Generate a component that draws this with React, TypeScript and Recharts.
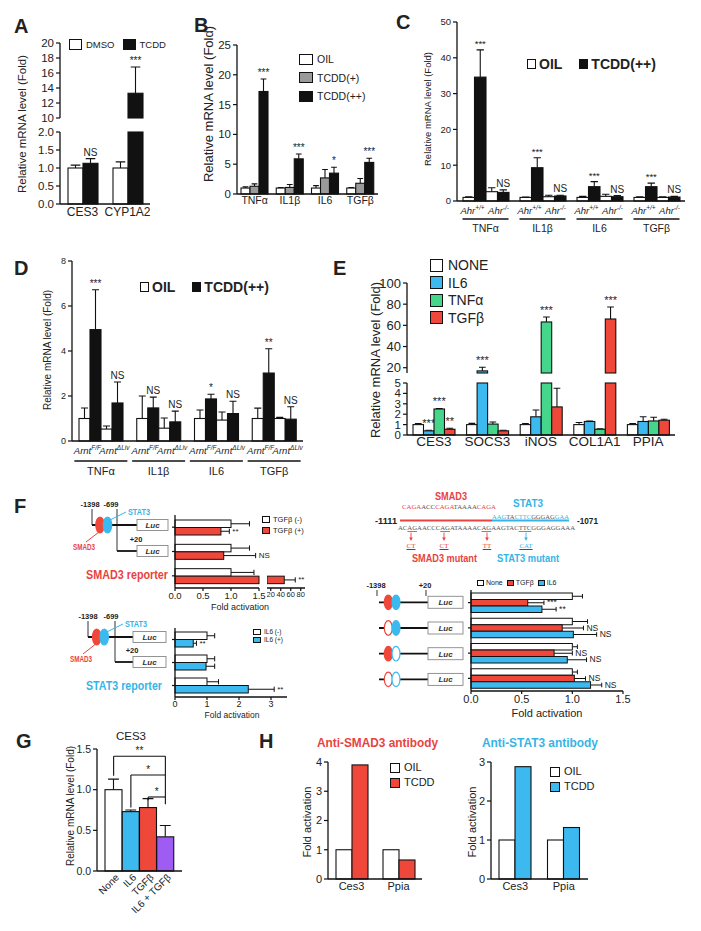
import React from "react";
import { BarChart, Bar, XAxis, YAxis, Legend, Cell, ReferenceLine } from "recharts";

const FONT = '"Liberation Sans", Arial, Helvetica, sans-serif';
const INK = "#111";
const TXT = "#222";
const RED = "#F0473B";
const BLUE = "#3CB9EE";
const GREEN = "#46D68B";
const PURPLE = "#9F5CF2";
const GREYBAR = "#9a9a9a";
const RED_T = "#E8433F";
const BLUE_T = "#36B4E6";

// ---- A: CES3 / CYP1A2 ----
const aGenes = ["CES3", "CYP1A2"];
const aDmso = [1.0, 1.0];
const aDmsoErr = [0.08, 0.17];
const aTcdd = [1.13, 13.3];
const aTcddErr = [0.13, 3.5];
const aSig = ["NS", "***"];

// ---- B ----
const bGenes = ["TNFα", "IL1β", "IL6", "TGFβ"];
const bOil = [1.0, 1.0, 1.0, 1.0];
const bOilErr = [0.2, 0.1, 0.4, 0.1];
const bTcdd1 = [1.3, 1.1, 2.7, 1.8];
const bTcdd1Err = [0.4, 0.5, 1.4, 0.8];
const bTcdd2 = [17.2, 5.9, 3.5, 5.3];
const bTcdd2Err = [2.1, 0.8, 1.0, 0.7];
const bSig = ["***", "***", "*", "***"];

// ---- C (Ahr +/+ vs -/-) ----
const cWtOil = [1.0, 1.0, 1.0, 1.0];
const cWtOilErr = [0.2, 0.1, 0.3, 0.2];
const cWtTcdd = [34.6, 9.3, 4.0, 4.0];
const cWtTcddErr = [7.6, 2.8, 1.4, 1.0];
const cKoOil = [2.6, 1.2, 1.3, 1.0];
const cKoOilErr = [1.1, 0.4, 0.6, 0.2];
const cKoTcdd = [2.4, 1.4, 1.2, 1.1];
const cKoTcddErr = [0.7, 0.2, 0.3, 0.2];
const cWtSig = ["***", "***", "***", "***"];
const cKoSig = ["NS", "NS", "NS", "NS"];

// ---- D (Arnt F/F vs ΔLiv) ----
const dWtOil = [1.0, 1.0, 1.0, 1.0];
const dWtOilErr = [0.47, 1.0, 0.38, 0.46];
const dWtTcdd = [4.95, 1.47, 1.87, 3.02];
const dWtTcddErr = [1.77, 0.48, 0.21, 1.08];
const dKoOil = [0.53, 0.57, 0.93, 1.0];
const dKoOilErr = [0.14, 0.45, 0.36, 0.05];
const dKoTcdd = [1.69, 0.85, 1.22, 0.97];
const dKoTcddErr = [0.93, 0.48, 0.55, 0.55];
const dWtSig = ["***", "NS", "*", "**"];
const dKoSig = ["NS", "NS", "NS", "NS"];

// ---- E ----
const eGenes = ["CES3", "SOCS3", "iNOS", "COL1A1", "PPIA"];
const eNone = [1.0, 1.0, 1.0, 1.0, 1.0];
const eNoneErr = [0.1, 0.12, 0.1, 0.2, 0.1];
const eIl6 = [0.4, 17, 1.75, 1.3, 1.3];
const eIl6Err = [0.05, 3.5, 0.65, 0.05, 0.45];
const eTnf = [2.5, 1.05, 63.2, 0.55, 1.35];
const eTnfErr = [0.05, 0.2, 4.7, 0.05, 0.35];
const eTgf = [0.55, 0.4, 2.7, 66, 1.42];
const eTgfErr = [0.1, 0.05, 1.8, 11.3, 0.1];
const eIl6Sig = ["***", "***", null, null, null];
const eTnfSig = ["***", null, "***", null, null];
const eTgfSig = ["**", null, null, "***", null];

// ---- F: SMAD3 reporter ----
const fRows3 = ["full", "short", "reporter"];
const fTgfNeg = [1.0, 1.0, 1.0];
const fTgfNegErr = [0.33, 0.33, 0.41];
const fTgfPos = [0.82, 0.87, 47];
const fTgfPosErr = [0.15, 0.57, 22];
const fTgfSig = ["**", "NS", "**"];
// ---- F: STAT3 reporter ----
const fIl6Neg = [1.0, 1.0, 1.0];
const fIl6NegErr = [0.24, 0.24, 0.36];
const fIl6Pos = [0.57, 0.97, 2.29];
const fIl6PosErr = [0.1, 0.27, 0.81];
const fIl6Sig = ["**", null, "**"];
// ---- F: mutant promoters ----
const fMutRows = ["wt", "smadMut", "statMut", "double"];
const fNone = [1.0, 1.0, 1.0, 1.0];
const fNoneErr = [0.1, 0.15, 0.05, 0.05];
const fTgf = [0.56, 0.9, 0.82, 1.02];
const fTgfErr = [0.16, 0.21, 0.18, 0.11];
const fTgfMutSig = ["***", "NS", "NS", "NS"];
const fIl6 = [0.7, 1.01, 0.95, 1.18];
const fIl6Err = [0.14, 0.23, 0.19, 0.11];
const fIl6MutSig = ["**", "NS", "NS", "NS"];
const fSites = [[true, true], [false, true], [true, false], [false, false]];

// ---- G ----
const gTreat = ["None", "IL6", "TGFβ", "IL6 + TGFβ"];
const gVals = [1.0, 0.73, 0.78, 0.42];
const gErr = [0.13, 0.02, 0.11, 0.14];
const gColors = ["#fff", BLUE, RED, PURPLE];

// ---- H ----
const hGenes = ["Ces3", "Ppia"];
const hSmadOil = [1.0, 1.0];
const hSmadTcdd = [3.9, 0.65];
const hStatOil = [1.0, 1.0];
const hStatTcdd = [2.88, 1.32];

type S = { key: string; v: number[]; e?: number[]; s?: (string | null)[] };

function rows(cats: string[], series: S[], lo = -Infinity, hi = Infinity) {
  return cats.map((name, i) => {
    const r: Record<string, any> = { name };
    for (const s of series) {
      const v = s.v[i];
      if (v <= lo) {
        r[s.key] = null;
        continue;
      }
      const clipped = v > hi;
      r[s.key] = clipped ? hi : v;
      r[s.key + "E"] = clipped || !s.e ? null : s.e[i];
      r[s.key + "S"] = clipped || !s.s ? null : s.s[i];
    }
    return r;
  });
}

function frame(px: number, py: number, pw: number, ph: number, yw: number, xh: number, mt = 12, mr = 12, mb = 0) {
  return {
    pos: { position: "absolute" as const, left: px - yw, top: py - mt },
    w: yw + pw + mr,
    h: mt + ph + xh + mb,
    m: { top: mt, right: mr, bottom: mb, left: 0 },
    ox: px - yw,
    oy: py - mt,
  };
}

const axLine = { stroke: INK, strokeWidth: 1.3 };
const tkLine = { stroke: INK, strokeWidth: 1.2 };

function yAx(fs: number) {
  return { axisLine: axLine, tickLine: tkLine, tickSize: 4, tickMargin: 2, tick: { fontSize: fs, fill: TXT }, interval: 0 as const };
}
function xCat(fs: number) {
  return { axisLine: axLine, tickLine: false, tickSize: 0, tickMargin: 3, tick: { fontSize: fs, fill: TXT }, interval: 0 as const };
}
const f1 = (v: number) => v.toFixed(1);
const none = () => <g />;

function legendAt(f: any, x: number, y: number) {
  return {
    layout: "vertical" as const,
    align: "center" as const,
    verticalAlign: "middle" as const,
    itemSorter: "dataKey" as any,
    wrapperStyle: { left: x - f.ox, top: y - f.oy, width: "auto" },
  };
}

function boxLegend(o: { fs: number; bw: number; bh: number; gap: number; sp: number; row?: boolean; bold?: boolean; bs?: number }) {
  return (props: any) => {
    const items = (props.payload || []).filter((e: any) => e.type !== "none");
    return (
      <div style={{ display: "flex", flexDirection: o.row ? "row" : "column", gap: o.sp, fontFamily: FONT }}>
        {items.map((e: any) => (
          <div
            key={e.value}
            style={{ display: "flex", alignItems: "center", gap: o.gap, fontSize: o.fs, fontWeight: o.bold ? 700 : 400, lineHeight: 1, color: TXT, whiteSpace: "nowrap" }}
          >
            <span style={{ display: "inline-block", width: o.bw, height: o.bh, background: e.color, border: `${o.bs ?? 1.5}px solid ${INK}`, boxSizing: "border-box" }} />
            <span>{e.value}</span>
          </div>
        ))}
      </div>
    );
  };
}

// vertical bar with one-sided error bar and significance mark
function vShape(key: string, base: number, o: { fs?: number; sdy?: number } = {}) {
  return (p: any) => {
    const { x, y, width, height, payload, fill } = p;
    const v = payload?.[key];
    if (v == null || !(height > 0)) return <g />;
    const ppu = height / (v - base);
    const err = payload[key + "E"];
    const sig = payload[key + "S"];
    const cx = x + width / 2;
    const top = err ? y - err * ppu : y;
    const cap = Math.max(2, width * 0.32);
    return (
      <g>
        {err ? <path d={`M${cx},${y}V${top}M${cx - cap},${top}H${cx + cap}`} stroke={INK} strokeWidth={1.1} fill="none" /> : null}
        <rect x={x} y={y} width={width} height={height} fill={fill} stroke={INK} strokeWidth={1.1} />
        {sig ? (
          <text x={cx} y={top - (o.sdy ?? 3)} textAnchor="middle" fontSize={o.fs ?? 10} fill={TXT}>
            {sig}
          </text>
        ) : null}
      </g>
    );
  };
}

// horizontal bar variant
function hShape(key: string, base: number, o: { fs?: number } = {}) {
  return (p: any) => {
    const { x, y, width, height, payload, fill } = p;
    const v = payload?.[key];
    if (v == null || !(width > 0)) return <g />;
    const ppu = width / (v - base);
    const err = payload[key + "E"];
    const sig = payload[key + "S"];
    const cy = y + height / 2;
    const end = x + width + (err ? err * ppu : 0);
    const cap = Math.max(1.8, height * 0.35);
    return (
      <g>
        {err ? <path d={`M${x + width},${cy}H${end}M${end},${cy - cap}V${cy + cap}`} stroke={INK} strokeWidth={1} fill="none" /> : null}
        <rect x={x} y={y} width={width} height={height} fill={fill} stroke={INK} strokeWidth={1} />
        {sig ? (
          <text x={end + 3} y={cy + (o.fs ?? 8) * 0.3} fontSize={o.fs ?? 8} fill={TXT}>
            {sig}
          </text>
        ) : null}
      </g>
    );
  };
}

function pairTick(a: [string, string], b: [string, string], o: { dx: number; fs: number; ly: number; half: number; uy: number; gy: number; gfs: number }) {
  return (p: any) => {
    const { x, y, payload } = p;
    const lab = (cx: number, t: [string, string]) => (
      <text x={cx} y={y + o.ly} textAnchor="middle" fontSize={o.fs} fontStyle="italic" fill={TXT}>
        {t[0]}
        <tspan fontSize={o.fs * 0.68} dy={-o.fs * 0.38}>
          {t[1]}
        </tspan>
      </text>
    );
    return (
      <g>
        {lab(x - o.dx, a)}
        {lab(x + o.dx, b)}
        <line x1={x - o.half} x2={x + o.half} y1={y + o.uy} y2={y + o.uy} stroke={INK} strokeWidth={1.6} />
        <text x={x} y={y + o.gy} textAnchor="middle" fontSize={o.gfs} fill={TXT}>
          {payload.value}
        </text>
      </g>
    );
  };
}

const slantTick = (p: any) => (
  <g transform={`translate(${p.x + 4},${p.y + 5})`}>
    <text transform="rotate(-45)" textAnchor="end" fontSize={10} fill={TXT} dy={3}>
      {p.payload.value}
    </text>
  </g>
);

function PanelA() {
  const ser: S[] = [
    { key: "s0", v: aDmso, e: aDmsoErr },
    { key: "s1", v: aTcdd, e: aTcddErr, s: aSig },
  ];
  const up = frame(60, 43, 90, 75, 30, 0, 12, 12, 8);
  const lo = frame(60, 132, 90, 80, 30, 22);
  return (
    <>
      <div style={up.pos}>
        <BarChart width={up.w} height={up.h} margin={up.m} data={rows(aGenes, ser, 10)} barSize={15} barGap={0}>
          <XAxis dataKey="name" hide />
          <YAxis type="number" domain={[10, 20]} ticks={[10, 12, 14, 16, 18, 20]} width={30} {...yAx(11.5)} />
          <Bar dataKey="s0" name="DMSO" fill="#fff" shape={vShape("s0", 10)} isAnimationActive={false} />
          <Bar dataKey="s1" name="TCDD" fill={INK} shape={vShape("s1", 10, { fs: 10 })} isAnimationActive={false} />
          <Legend {...legendAt(up, 69, 39)} content={boxLegend({ row: true, fs: 9.5, bw: 13, bh: 11, gap: 4, sp: 8 })} />
        </BarChart>
      </div>
      <div style={lo.pos}>
        <BarChart width={lo.w} height={lo.h} margin={lo.m} data={rows(aGenes, ser, -Infinity, 2)} barSize={15} barGap={0}>
          <XAxis dataKey="name" {...xCat(12)} />
          <YAxis type="number" domain={[0, 2]} ticks={[0, 0.5, 1, 1.5, 2]} tickFormatter={f1} width={30} {...yAx(11.5)} />
          <Bar dataKey="s0" name="DMSO" fill="#fff" shape={vShape("s0", 0)} isAnimationActive={false} />
          <Bar dataKey="s1" name="TCDD" fill={INK} shape={vShape("s1", 0, { fs: 10 })} isAnimationActive={false} />
        </BarChart>
      </div>
    </>
  );
}

function PanelB() {
  const ser: S[] = [
    { key: "s0", v: bOil, e: bOilErr },
    { key: "s1", v: bTcdd1, e: bTcdd1Err },
    { key: "s2", v: bTcdd2, e: bTcdd2Err, s: bSig },
  ];
  const f = frame(237, 45, 141, 157, 30, 22);
  return (
    <div style={f.pos}>
      <BarChart width={f.w} height={f.h} margin={f.m} data={rows(bGenes, ser)} barSize={9} barGap={0}>
        <XAxis dataKey="name" {...xCat(10.5)} />
        <YAxis type="number" domain={[0, 25]} ticks={[0, 5, 10, 15, 20, 25]} width={30} {...yAx(11.5)} />
        <Bar dataKey="s0" name="OIL" fill="#fff" shape={vShape("s0", 0)} isAnimationActive={false} />
        <Bar dataKey="s1" name="TCDD(+)" fill={GREYBAR} shape={vShape("s1", 0)} isAnimationActive={false} />
        <Bar dataKey="s2" name="TCDD(++)" fill={INK} shape={vShape("s2", 0, { fs: 10 })} isAnimationActive={false} />
        <Legend {...legendAt(f, 299, 54)} content={boxLegend({ fs: 10.5, bw: 14, bh: 11, gap: 4, sp: 7.3 })} />
      </BarChart>
    </div>
  );
}

function PanelC() {
  const ser: S[] = [
    { key: "s0", v: cWtOil, e: cWtOilErr },
    { key: "s1", v: cWtTcdd, e: cWtTcddErr, s: cWtSig },
    { key: "s2", v: cKoOil, e: cKoOilErr },
    { key: "s3", v: cKoTcdd, e: cKoTcddErr, s: cKoSig },
  ];
  const f = frame(457, 22, 228, 179, 25, 52);
  return (
    <div style={f.pos}>
      <BarChart width={f.w} height={f.h} margin={f.m} data={rows(bGenes, ser)} barSize={11.5} barGap={0}>
        <XAxis
          dataKey="name"
          height={52}
          axisLine={axLine}
          tickLine={false}
          tickSize={0}
          tickMargin={0}
          interval={0}
          tick={pairTick(["Ahr", "+/+"], ["Ahr", "-/-"], { dx: 13, fs: 9.5, ly: 13, half: 23, uy: 18, gy: 31, gfs: 10.5 })}
        />
        <YAxis type="number" domain={[0, 50]} ticks={[0, 10, 20, 30, 40, 50]} width={25} {...yAx(9.5)} />
        <Bar dataKey="s0" name="OIL" fill="#fff" shape={vShape("s0", 0)} isAnimationActive={false} />
        <Bar dataKey="s1" name="TCDD(++)" fill={INK} shape={vShape("s1", 0, { fs: 9.5 })} isAnimationActive={false} />
        <Bar dataKey="s2" name="OIL ko" legendType="none" fill="#fff" shape={vShape("s2", 0)} isAnimationActive={false} />
        <Bar dataKey="s3" name="TCDD ko" legendType="none" fill={INK} shape={vShape("s3", 0, { fs: 10 })} isAnimationActive={false} />
        <Legend {...legendAt(f, 527, 57)} content={boxLegend({ row: true, bold: true, fs: 14, bw: 9, bh: 10, gap: 3, sp: 17 })} />
      </BarChart>
    </div>
  );
}

function PanelD() {
  const ser: S[] = [
    { key: "s0", v: dWtOil, e: dWtOilErr },
    { key: "s1", v: dWtTcdd, e: dWtTcddErr, s: dWtSig },
    { key: "s2", v: dKoOil, e: dKoOilErr },
    { key: "s3", v: dKoTcdd, e: dKoTcddErr, s: dKoSig },
  ];
  const f = frame(72, 261, 231, 180, 25, 52);
  return (
    <div style={f.pos}>
      <BarChart width={f.w} height={f.h} margin={f.m} data={rows(bGenes, ser)} barSize={11} barGap={0}>
        <XAxis
          dataKey="name"
          height={52}
          axisLine={axLine}
          tickLine={false}
          tickSize={0}
          tickMargin={0}
          interval={0}
          tick={pairTick(["Arnt", "F/F"], ["Arnt", "ΔLiv"], { dx: 13.5, fs: 9.5, ly: 13, half: 26.5, uy: 20, gy: 34, gfs: 11 })}
        />
        <YAxis type="number" domain={[0, 8]} ticks={[0, 2, 4, 6, 8]} width={25} {...yAx(9)} />
        <Bar dataKey="s0" name="OIL" fill="#fff" shape={vShape("s0", 0)} isAnimationActive={false} />
        <Bar dataKey="s1" name="TCDD(++)" fill={INK} shape={vShape("s1", 0, { fs: 10 })} isAnimationActive={false} />
        <Bar dataKey="s2" name="OIL ko" legendType="none" fill="#fff" shape={vShape("s2", 0)} isAnimationActive={false} />
        <Bar dataKey="s3" name="TCDD ko" legendType="none" fill={INK} shape={vShape("s3", 0, { fs: 10 })} isAnimationActive={false} />
        <Legend {...legendAt(f, 140, 280)} content={boxLegend({ row: true, bold: true, fs: 14, bw: 9, bh: 10, gap: 3, sp: 17 })} />
      </BarChart>
    </div>
  );
}

function PanelE() {
  const ser: S[] = [
    { key: "s0", v: eNone, e: eNoneErr },
    { key: "s1", v: eIl6, e: eIl6Err, s: eIl6Sig },
    { key: "s2", v: eTnf, e: eTnfErr, s: eTnfSig },
    { key: "s3", v: eTgf, e: eTgfErr, s: eTgfSig },
  ];
  const up = frame(407, 283, 268, 90, 45, 0, 30, 12, 8);
  const lo = frame(407, 383, 268, 60, 45, 22);
  const bars = (base: number) => [
    <Bar key="s0" dataKey="s0" name="NONE" fill="#fff" shape={vShape("s0", base, { fs: 11 })} isAnimationActive={false} />,
    <Bar key="s1" dataKey="s1" name="IL6" fill={BLUE} shape={vShape("s1", base, { fs: 11 })} isAnimationActive={false} />,
    <Bar key="s2" dataKey="s2" name="TNFα" fill={GREEN} shape={vShape("s2", base, { fs: 11 })} isAnimationActive={false} />,
    <Bar key="s3" dataKey="s3" name="TGFβ" fill={RED} shape={vShape("s3", base, { fs: 11 })} isAnimationActive={false} />,
  ];
  return (
    <>
      <div style={up.pos}>
        <BarChart width={up.w} height={up.h} margin={up.m} data={rows(eGenes, ser, 15)} barSize={10.5} barGap={0}>
          <XAxis dataKey="name" hide />
          <YAxis type="number" domain={[15, 100]} ticks={[20, 40, 60, 80, 100]} width={45} {...yAx(13)} />
          {bars(15)}
          <Legend {...legendAt(up, 430, 258)} content={boxLegend({ fs: 14, bw: 13, bh: 13, gap: 5, sp: 3.5 })} />
        </BarChart>
      </div>
      <div style={lo.pos}>
        <BarChart width={lo.w} height={lo.h} margin={lo.m} data={rows(eGenes, ser, -Infinity, 5)} barSize={10.5} barGap={0}>
          <XAxis dataKey="name" {...xCat(13.5)} tickMargin={1} />
          <YAxis type="number" domain={[0, 5]} ticks={[0, 1, 2, 3, 4, 5]} width={45} {...yAx(11.5)} />
          {bars(0)}
        </BarChart>
      </div>
    </>
  );
}

function PanelF() {
  const top: S[] = [
    { key: "s0", v: fTgfNeg, e: fTgfNegErr },
    { key: "s1", v: fTgfPos, e: fTgfPosErr, s: fTgfSig },
  ];
  const bot: S[] = [
    { key: "s0", v: fIl6Neg, e: fIl6NegErr },
    { key: "s1", v: fIl6Pos, e: fIl6PosErr, s: fIl6Sig },
  ];
  const mut: S[] = [
    { key: "s0", v: fNone, e: fNoneErr },
    { key: "s1", v: fTgf, e: fTgfErr, s: fTgfMutSig },
    { key: "s2", v: fIl6, e: fIl6Err, s: fIl6MutSig },
  ];
  const a = frame(175, 515, 84, 73, 10, 16, 6, 30);
  const b = frame(267, 515, 38, 73, 0, 16, 6, 20);
  const c = frame(175, 628, 112, 69, 10, 16, 6, 20);
  const d = frame(471, 590, 152, 101, 10, 16, 6, 24);
  const xNum = (fs: number) => ({ axisLine: axLine, tickLine: tkLine, tickSize: 3, tickMargin: 1, tick: { fontSize: fs, fill: TXT }, interval: 0 as const });
  const yCat = { type: "category" as const, dataKey: "name", axisLine: axLine, tickLine: tkLine, tickSize: 3, tick: none, width: 10 };
  return (
    <>
      <div style={a.pos}>
        <BarChart layout="vertical" width={a.w} height={a.h} margin={a.m} data={rows(fRows3, top, -Infinity, 1.5)} barSize={7.5} barGap={0}>
          <XAxis type="number" domain={[0, 1.5]} ticks={[0, 0.5, 1, 1.5]} tickFormatter={f1} {...xNum(9.5)} height={16} />
          <YAxis {...yCat} />
          <Bar dataKey="s0" name="TGFβ (-)" fill="#fff" shape={hShape("s0", 0)} isAnimationActive={false} />
          <Bar dataKey="s1" name="TGFβ (+)" fill={RED} shape={hShape("s1", 0)} isAnimationActive={false} />
          <Legend {...legendAt(a, 262, 516)} content={boxLegend({ fs: 7.5, bw: 8, bh: 7, gap: 3, sp: 3.5, bs: 1.2 })} />
        </BarChart>
      </div>
      <div style={b.pos}>
        <BarChart layout="vertical" width={b.w} height={b.h} margin={b.m} data={rows(fRows3, top, 12.5)} barSize={7.5} barGap={0}>
          <XAxis type="number" domain={[12.5, 88.5]} ticks={[20, 40, 60, 80]} {...xNum(7.5)} height={16} />
          <YAxis type="category" dataKey="name" hide />
          <Bar dataKey="s0" name="TGFβ (-)" fill="#fff" shape={hShape("s0", 12.5)} isAnimationActive={false} />
          <Bar dataKey="s1" name="TGFβ (+)" fill={RED} shape={hShape("s1", 12.5)} isAnimationActive={false} />
        </BarChart>
      </div>
      <div style={c.pos}>
        <BarChart layout="vertical" width={c.w} height={c.h} margin={c.m} data={rows(fRows3, bot)} barSize={7.5} barGap={0}>
          <XAxis type="number" domain={[0, 3.5]} ticks={[0, 1, 2, 3]} {...xNum(9)} height={16} />
          <YAxis {...yCat} />
          <Bar dataKey="s0" name="IL6 (-)" fill="#fff" shape={hShape("s0", 0)} isAnimationActive={false} />
          <Bar dataKey="s1" name="IL6 (+)" fill={BLUE} shape={hShape("s1", 0)} isAnimationActive={false} />
          <Legend {...legendAt(c, 253, 629)} content={boxLegend({ fs: 6.5, bw: 8, bh: 6, gap: 3, sp: 1.5, bs: 1.1 })} />
        </BarChart>
      </div>
      <div style={d.pos}>
        <BarChart layout="vertical" width={d.w} height={d.h} margin={d.m} data={rows(fMutRows, mut)} barSize={6.5} barGap={0}>
          <XAxis type="number" domain={[0, 1.5]} ticks={[0, 0.5, 1, 1.5]} tickFormatter={f1} {...xNum(11)} height={16} />
          <YAxis {...yCat} />
          <Bar dataKey="s0" name="None" fill="#fff" shape={hShape("s0", 0, { fs: 8.5 })} isAnimationActive={false} />
          <Bar dataKey="s1" name="TGFβ" fill={RED} shape={hShape("s1", 0, { fs: 8.5 })} isAnimationActive={false} />
          <Bar dataKey="s2" name="IL6" fill={BLUE} shape={hShape("s2", 0, { fs: 8.5 })} isAnimationActive={false} />
          <Legend {...legendAt(d, 477, 579)} content={boxLegend({ row: true, fs: 7, bw: 7, bh: 6, gap: 2, sp: 4, bs: 1 })} />
        </BarChart>
      </div>
    </>
  );
}

function PanelG() {
  const data = gTreat.map((name, i) => ({ name, s0: gVals[i], s0E: gErr[i], s0S: null }));
  const f = frame(97, 749, 85, 122, 30, 75);
  const last = gTreat[3];
  const br = [
    { from: gTreat[0], y: 1.41, leg: 1.17, label: "**" },
    { from: gTreat[1], y: 1.18, leg: 0.78, label: "*" },
    { from: gTreat[2], y: 0.91, leg: 0.87, label: "*" },
  ];
  return (
    <div style={f.pos}>
      <BarChart width={f.w} height={f.h} margin={f.m} data={data} barCategoryGap={0} barGap={0}>
        <XAxis dataKey="name" height={75} axisLine={axLine} tickLine={false} tickSize={0} tickMargin={0} interval={0} padding={{ left: 8, right: 8 }} tick={slantTick} />
        <YAxis type="number" domain={[0, 1.5]} ticks={[0, 0.5, 1, 1.5]} tickFormatter={f1} width={30} {...yAx(10.5)} />
        <Bar dataKey="s0" name="CES3" fill="#fff" shape={vShape("s0", 0)} isAnimationActive={false}>
          {gColors.map((c, i) => (
            <Cell key={i} fill={c} />
          ))}
        </Bar>
        {br.map((b) => (
          <ReferenceLine
            key={"h" + b.from}
            segment={[{ x: b.from, y: b.y }, { x: last, y: b.y }]}
            stroke={INK}
            strokeWidth={1.1}
            ifOverflow="visible"
            label={{ value: b.label, position: "top", fontSize: 10, fill: TXT, offset: 2 }}
          />
        ))}
        {br.map((b) => (
          <ReferenceLine key={"v" + b.from} segment={[{ x: b.from, y: b.y }, { x: b.from, y: b.leg }]} stroke={INK} strokeWidth={1.1} ifOverflow="visible" />
        ))}
        <ReferenceLine segment={[{ x: last, y: 1.41 }, { x: last, y: 0.82 }]} stroke={INK} strokeWidth={1.1} ifOverflow="visible" />
      </BarChart>
    </div>
  );
}

function HChart({ px, pw, oil, tcdd, color, max, lx, ly }: any) {
  const data = rows(hGenes, [
    { key: "s0", v: oil },
    { key: "s1", v: tcdd },
  ]);
  const f = frame(px, 762, pw, 125, 22, 22);
  const ticks = Array.from({ length: max + 1 }, (_, i) => i);
  return (
    <div style={f.pos}>
      <BarChart width={f.w} height={f.h} margin={f.m} data={data} barSize={16} barGap={0}>
        <XAxis dataKey="name" {...xCat(11)} />
        <YAxis type="number" domain={[0, max]} ticks={ticks} width={22} {...yAx(11)} />
        <Bar dataKey="s0" name="OIL" fill="#fff" shape={vShape("s0", 0)} isAnimationActive={false} />
        <Bar dataKey="s1" name="TCDD" fill={color} shape={vShape("s1", 0)} isAnimationActive={false} />
        <Legend {...legendAt(f, lx, ly)} content={boxLegend({ fs: 11, bw: 10, bh: 10, gap: 4, sp: 4 })} />
      </BarChart>
    </div>
  );
}

function Tx({ x, y, s, a = "start", b, it, c = TXT, len, ff, children }: any) {
  return (
    <text
      x={x}
      y={y}
      fontSize={s}
      textAnchor={a}
      fontWeight={b ? 700 : 400}
      fontStyle={it ? "italic" : "normal"}
      fill={c}
      textLength={len}
      lengthAdjust={len ? "spacingAndGlyphs" : undefined}
      fontFamily={ff}
    >
      {children}
    </text>
  );
}

function VT({ x, y, s, children }: any) {
  return (
    <text transform={`translate(${x},${y}) rotate(-90)`} textAnchor="middle" dominantBaseline="central" fontSize={s} fill={TXT}>
      {children}
    </text>
  );
}

function Luc({ x, y, w, h }: any) {
  return (
    <g>
      <rect x={x} y={y} width={w} height={h} fill="#fff" stroke="#888" strokeWidth={0.9} />
      <text x={x + w / 2} y={y + h / 2 + 2.8} textAnchor="middle" fontSize={8} fontStyle="italic" fontWeight={700} fill="#333">
        Luc
      </text>
    </g>
  );
}

function Sites({ cx, cy, rx, ry, d, smad = true, stat = true }: any) {
  return (
    <g>
      <ellipse cx={cx} cy={cy} rx={rx} ry={ry} fill={smad ? RED : "#fff"} stroke={RED} strokeWidth={1.2} />
      <ellipse cx={cx + d} cy={cy} rx={rx} ry={ry} fill={stat ? BLUE : "#fff"} stroke={BLUE} strokeWidth={1.2} />
    </g>
  );
}

function Reporter({ oy, lx1, l1y, l2x, l2y, ex, title, tc, tlen, ty, rows: r }: any) {
  return (
    <g>
      <Tx x={r.m1398} y={oy} s={7.5} a="middle" b>-1398</Tx>
      <Tx x={r.m699} y={oy} s={7.5} a="middle" b>-699</Tx>
      <line x1={lx1} x2={lx1} y1={oy + 2} y2={l1y} stroke="#333" strokeWidth={1} />
      <line x1={l2x} x2={l2x} y1={oy + 2} y2={l2y} stroke="#333" strokeWidth={1} />
      <line x1={lx1} x2={r.lucX} y1={l1y} y2={l1y} stroke={INK} strokeWidth={1.8} />
      <line x1={l2x} x2={r.lucX} y1={l2y} y2={l2y} stroke={INK} strokeWidth={1.8} />
      <Sites cx={ex} cy={l1y} rx={4.2} ry={8} d={7.5} />
      <Luc x={r.lucX} y={l1y - 5.5} w={r.lucW} h={11} />
      <Luc x={r.lucX} y={l2y - 5.5} w={r.lucW} h={11} />
      <Tx x={r.p20} y={l2y - 9} s={7.5} a="middle" b>+20</Tx>
      <Tx x={r.statX} y={r.statY} s={8.5} b c={BLUE_T} len={22}>STAT3</Tx>
      <line x1={r.statX - 2} y1={r.statY - 3} x2={ex + 10} y2={l1y - 5} stroke={BLUE_T} strokeWidth={1} />
      <Tx x={r.smadX} y={r.smadY} s={8.5} b c={RED_T} len={22}>SMAD3</Tx>
      <line x1={r.smadX + 13} y1={r.smadY - 8} x2={ex - 1} y2={l1y + 7} stroke={RED_T} strokeWidth={1} />
      <Tx x={86} y={ty} s={13} b c={tc} len={tlen}>{title}</Tx>
    </g>
  );
}

function Arrow({ x, c }: any) {
  return (
    <g>
      <path d={`M${x},532.5V538`} stroke={c} strokeWidth={0.9} />
      <path d={`M${x - 1.8},537.5L${x},541L${x + 1.8},537.5Z`} fill={c} />
    </g>
  );
}

function Overlay() {
  const serif = '"Liberation Serif", serif';
  return (
    <svg width={701} height={931} style={{ position: "absolute", left: 0, top: 0, pointerEvents: "none" }} fontFamily={FONT}>
      <Tx x={14} y={33} s={20} b>A</Tx>
      <Tx x={194} y={32} s={20} b>B</Tx>
      <Tx x={396} y={29} s={20} b>C</Tx>
      <Tx x={14} y={275} s={20} b>D</Tx>
      <Tx x={333} y={275} s={20} b>E</Tx>
      <Tx x={14} y={513} s={20} b>F</Tx>
      <Tx x={16} y={748} s={20} b>G</Tx>
      <Tx x={259} y={748} s={20} b>H</Tx>

      <VT x={22} y={124} s={11.5}>Relative mRNA level (Fold)</VT>
      <VT x={208} y={104} s={13}>Relative mRNA level (Fold)</VT>
      <VT x={427} y={109} s={9.5}>Relative mRNA level (Fold)</VT>
      <VT x={47} y={350} s={10}>Relative mRNA level (Fold)</VT>
      <VT x={375} y={360} s={13}>Relative mRNA level (Fold)</VT>
      <VT x={70} y={806} s={10}>Relative mRNA level (Fold)</VT>
      <VT x={307} y={822} s={11}>Fold activation</VT>
      <VT x={472} y={822} s={11}>Fold activation</VT>

      <Tx x={240} y={610} s={9} a="middle">Fold activation</Tx>
      <Tx x={232} y={718} s={8.5} a="middle">Fold activation</Tx>
      <Tx x={547} y={717} s={11} a="middle">Fold activation</Tx>
      <Tx x={131} y={740} s={11.5} a="middle">CES3</Tx>
      <Tx x={317} y={747} s={12} b c={RED_T} len={121}>Anti-SMAD3 antibody</Tx>
      <Tx x={482} y={747} s={12} b c={BLUE_T} len={116}>Anti-STAT3 antibody</Tx>

      {/* F: SMAD3 reporter construct */}
      <Reporter
        oy={507}
        lx1={92}
        l1y={525}
        l2x={117}
        l2y={551}
        ex={100}
        title="SMAD3 reporter"
        tc={RED_T}
        tlen={82}
        ty={579}
        rows={{ m1398: 90, m699: 111, lucX: 137, lucW: 31, p20: 136, statX: 128, statY: 515, smadX: 73, smadY: 550 }}
      />
      {/* F: STAT3 reporter construct */}
      <Reporter
        oy={619}
        lx1={88}
        l1y={637}
        l2x={115}
        l2y={662}
        ex={96.7}
        title="STAT3 reporter"
        tc={BLUE_T}
        tlen={76}
        ty={690}
        rows={{ m1398: 88, m699: 111, lucX: 133, lucW: 33, p20: 132, statX: 125, statY: 627, smadX: 70, smadY: 662 }}
      />

      {/* F: promoter sequence */}
      <Tx x={435} y={500} s={10} b c={RED_T} len={32}>SMAD3</Tx>
      <Tx x={513} y={507} s={10} b c={BLUE_T} len={30}>STAT3</Tx>
      <text x={402} y={509} fontSize={7} fontFamily={serif} textLength={94} lengthAdjust="spacingAndGlyphs">
        <tspan fill={RED_T}>CAGA</tspan>
        <tspan fill="#555">ACC</tspan>
        <tspan fill={RED_T}>CAGA</tspan>
        <tspan fill="#555">TAAAA</tspan>
        <tspan fill={RED_T}>CAGA</tspan>
      </text>
      <text x={492} y={519} fontSize={6.5} fontFamily={serif} textLength={77} lengthAdjust="spacingAndGlyphs">
        <tspan fill={BLUE_T}>AAG</tspan>
        <tspan fill="#555">TA</tspan>
        <tspan fill={BLUE_T}>CTTC</tspan>
        <tspan fill="#555">GGGAG</tspan>
        <tspan fill={BLUE_T}>GAA</tspan>
      </text>
      <Tx x={375} y={524} s={8.5} b len={22}>-1111</Tx>
      <Tx x={577} y={524} s={8.5} b len={21}>-1071</Tx>
      <line x1={400} x2={492} y1={520.5} y2={520.5} stroke={RED_T} strokeWidth={2} />
      <line x1={492} x2={569} y1={520.5} y2={520.5} stroke={BLUE_T} strokeWidth={2} />
      <text x={398} y={530} fontSize={7} fontFamily={serif} fill="#555" textLength={177} lengthAdjust="spacingAndGlyphs">
        <tspan>AC</tspan>
        <tspan textDecoration="underline">AG</tspan>
        <tspan>AACCC</tspan>
        <tspan textDecoration="underline">AG</tspan>
        <tspan>ATAAAAC</tspan>
        <tspan textDecoration="underline">AG</tspan>
        <tspan>AAGTAC</tspan>
        <tspan textDecoration="underline">TTC</tspan>
        <tspan>GGGAGGAAA</tspan>
      </text>
      <Arrow x={411} c={RED_T} />
      <Arrow x={444} c={RED_T} />
      <Arrow x={487} c={RED_T} />
      <Arrow x={526} c={BLUE_T} />
      <g fontFamily={serif} fontSize={7} textDecoration="underline">
        <text x={411} y={548} textAnchor="middle" fill={RED_T}>CT</text>
        <text x={444} y={548} textAnchor="middle" fill={RED_T}>CT</text>
        <text x={487} y={548} textAnchor="middle" fill={RED_T}>TT</text>
        <text x={526} y={548} textAnchor="middle" fill={BLUE_T}>CAT</text>
      </g>
      <Tx x={412} y={562} s={10} b c={RED_T} len={65}>SMAD3 mutant</Tx>
      <Tx x={497} y={562} s={10} b c={BLUE_T} len={62}>STAT3 mutant</Tx>

      {/* F: mutant constructs */}
      <Tx x={376} y={588} s={7.5} a="middle" b>-1398</Tx>
      <Tx x={425} y={588} s={7.5} a="middle" b>+20</Tx>
      <line x1={377} x2={377} y1={590} y2={596} stroke="#333" />
      <line x1={426} x2={426} y1={590} y2={596} stroke="#333" />
      {fSites.map((s, i) => {
        const cy = 602.3 + i * 25.7;
        return (
          <g key={i}>
            <line x1={379} x2={428} y1={cy} y2={cy} stroke={INK} strokeWidth={1.8} />
            <Sites cx={388.3} cy={cy} rx={4} ry={7.3} d={7.7} smad={s[0]} stat={s[1]} />
            <Luc x={428} y={cy - 6} w={35} h={12} />
          </g>
        );
      })}
    </svg>
  );
}

export default function App() {
  return (
    <div style={{ position: "absolute", left: 0, top: 0, width: 701, height: 931, background: "#fff", fontFamily: FONT, overflow: "hidden" }}>
      <PanelA />
      <PanelB />
      <PanelC />
      <PanelD />
      <PanelE />
      <PanelF />
      <PanelG />
      <HChart px={328} pw={94} oil={hSmadOil} tcdd={hSmadTcdd} color={RED} max={4} lx={390} ly={762} />
      <HChart px={491} pw={97} oil={hStatOil} tcdd={hStatTcdd} color={BLUE} max={3} lx={550} ly={766} />
      <Overlay />
    </div>
  );
}
